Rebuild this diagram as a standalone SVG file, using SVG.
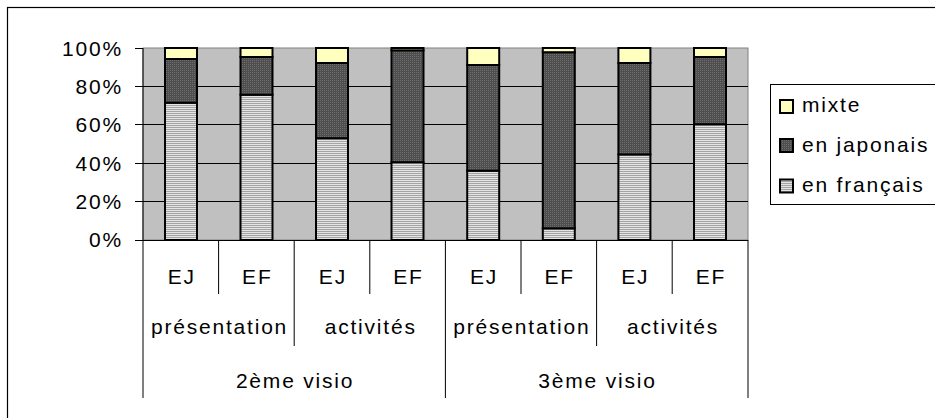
<svg xmlns="http://www.w3.org/2000/svg" width="935" height="418" viewBox="0 0 935 418">
  <defs>
    <pattern id="fr" width="4" height="2" patternUnits="userSpaceOnUse">
      <rect width="4" height="2" fill="#e4e4e4"/>
      <rect y="1" width="4" height="1" fill="#a4a4a4"/>
    </pattern>
    <pattern id="jp" width="2" height="2" patternUnits="userSpaceOnUse">
      <rect width="2" height="2" fill="#4e4e4e"/>
      <rect width="1" height="1" fill="#6e6e6e"/>
    </pattern>
    <style>
      text { font-family: "Liberation Sans", Arial, sans-serif; font-size: 21px; fill: #000; letter-spacing: 1.8px; }
      .ylab { text-anchor: end; }
      .cat { text-anchor: middle; }
      .seg { stroke: #000; stroke-width: 2; }
      .mixte { fill: #ffffc0; }
      .jp { fill: url(#jp); }
      .fr { fill: url(#fr); }
      .grid { stroke: #000; stroke-width: 1; }
      .sep { stroke: #000; stroke-width: 1; }
    </style>
  </defs>

  <rect x="0" y="0" width="935" height="418" fill="#fff"/>
  <rect x="7.5" y="7.5" width="940" height="420" fill="none" stroke="#000" stroke-width="1.2"/>

  <g id="plot">
    <rect x="143" y="48" width="605" height="192" fill="#c0c0c0" stroke="#808080" stroke-width="1"/>
    <g class="grid">
      <line x1="143" y1="86.5" x2="748" y2="86.5"/>
      <line x1="143" y1="124.5" x2="748" y2="124.5"/>
      <line x1="143" y1="163.5" x2="748" y2="163.5"/>
      <line x1="143" y1="201.5" x2="748" y2="201.5"/>
      <line x1="143" y1="240.5" x2="748" y2="240.5"/>
    </g>
    <g class="grid">
      <line x1="143" y1="48" x2="143" y2="241"/>
      <line x1="135" y1="48.5" x2="143" y2="48.5"/>
      <line x1="135" y1="86.5" x2="143" y2="86.5"/>
      <line x1="135" y1="124.5" x2="143" y2="124.5"/>
      <line x1="135" y1="163.5" x2="143" y2="163.5"/>
      <line x1="135" y1="201.5" x2="143" y2="201.5"/>
      <line x1="135" y1="240.5" x2="143" y2="240.5"/>
    </g>
  </g>

  <g id="y-labels">
    <text class="ylab" x="123" y="55.5">100%</text>
    <text class="ylab" x="123" y="93.5">80%</text>
    <text class="ylab" x="123" y="132">60%</text>
    <text class="ylab" x="123" y="170.5">40%</text>
    <text class="ylab" x="123" y="209">20%</text>
    <text class="ylab" x="123" y="247">0%</text>
  </g>

  <g id="bars">
    <g id="bar1">
      <rect class="seg fr" x="165" y="102.7" width="32" height="137.3"/>
      <rect class="seg jp" x="165" y="59" width="32" height="43.7"/>
      <rect class="seg mixte" x="165" y="48" width="32" height="11"/>
    </g>
    <g id="bar2">
      <rect class="seg fr" x="240.5" y="94.7" width="32" height="145.3"/>
      <rect class="seg jp" x="240.5" y="57" width="32" height="37.7"/>
      <rect class="seg mixte" x="240.5" y="48" width="32" height="9"/>
    </g>
    <g id="bar3">
      <rect class="seg fr" x="316" y="138.2" width="32" height="101.8"/>
      <rect class="seg jp" x="316" y="63" width="32" height="75.2"/>
      <rect class="seg mixte" x="316" y="48" width="32" height="15"/>
    </g>
    <g id="bar4">
      <rect class="seg fr" x="391.5" y="162.2" width="32" height="77.8"/>
      <rect class="seg jp" x="391.5" y="50.3" width="32" height="111.9"/>
      <rect class="seg mixte" x="391.5" y="48" width="32" height="2.3"/>
    </g>
    <g id="bar5">
      <rect class="seg fr" x="467.2" y="170.7" width="32" height="69.3"/>
      <rect class="seg jp" x="467.2" y="65" width="32" height="105.7"/>
      <rect class="seg mixte" x="467.2" y="48" width="32" height="17"/>
    </g>
    <g id="bar6">
      <rect class="seg fr" x="542.8" y="228.3" width="32" height="11.7"/>
      <rect class="seg jp" x="542.8" y="52.2" width="32" height="176.1"/>
      <rect class="seg mixte" x="542.8" y="48" width="32" height="4.2"/>
    </g>
    <g id="bar7">
      <rect class="seg fr" x="618.4" y="154.4" width="32" height="85.6"/>
      <rect class="seg jp" x="618.4" y="63" width="32" height="91.4"/>
      <rect class="seg mixte" x="618.4" y="48" width="32" height="15"/>
    </g>
    <g id="bar8">
      <rect class="seg fr" x="694" y="124.2" width="32" height="115.8"/>
      <rect class="seg jp" x="694" y="57" width="32" height="67.2"/>
      <rect class="seg mixte" x="694" y="48" width="32" height="9"/>
    </g>
  </g>

  <g id="category-separators" class="sep">
    <line x1="143" y1="240" x2="143" y2="398"/>
    <line x1="218.6" y1="240" x2="218.6" y2="294"/>
    <line x1="294.2" y1="240" x2="294.2" y2="346"/>
    <line x1="369.8" y1="240" x2="369.8" y2="294"/>
    <line x1="445.4" y1="240" x2="445.4" y2="398"/>
    <line x1="521" y1="240" x2="521" y2="294"/>
    <line x1="596.6" y1="240" x2="596.6" y2="346"/>
    <line x1="672.2" y1="240" x2="672.2" y2="294"/>
    <line x1="748" y1="240" x2="748" y2="398"/>
  </g>

  <g id="category-labels">
    <text class="cat" x="181.7" y="284">EJ</text>
    <text class="cat" x="257.3" y="284">EF</text>
    <text class="cat" x="332.9" y="284">EJ</text>
    <text class="cat" x="408.5" y="284">EF</text>
    <text class="cat" x="484.1" y="284">EJ</text>
    <text class="cat" x="559.7" y="284">EF</text>
    <text class="cat" x="635.3" y="284">EJ</text>
    <text class="cat" x="710.9" y="284">EF</text>
    <text class="cat" x="219.5" y="334">présentation</text>
    <text class="cat" x="370.7" y="334">activités</text>
    <text class="cat" x="521.9" y="334">présentation</text>
    <text class="cat" x="673.1" y="334">activités</text>
    <text class="cat" x="295.1" y="388">2ème visio</text>
    <text class="cat" x="597.5" y="388">3ème visio</text>
  </g>

  <g id="legend">
    <rect x="770.5" y="84.5" width="170" height="120" fill="#fff" stroke="#000" stroke-width="1"/>
    <g id="legend-mixte">
      <rect class="seg mixte" x="780" y="100" width="13" height="13" stroke-width="1.5"/>
      <text x="802" y="112">mixte</text>
    </g>
    <g id="legend-jp">
      <rect class="seg jp" x="780" y="139" width="13" height="13" stroke-width="1.5"/>
      <text x="802" y="152">en japonais</text>
    </g>
    <g id="legend-fr">
      <rect class="seg fr" x="780" y="179.5" width="13" height="13" stroke-width="1.5"/>
      <text x="802" y="192">en français</text>
    </g>
  </g>
</svg>
